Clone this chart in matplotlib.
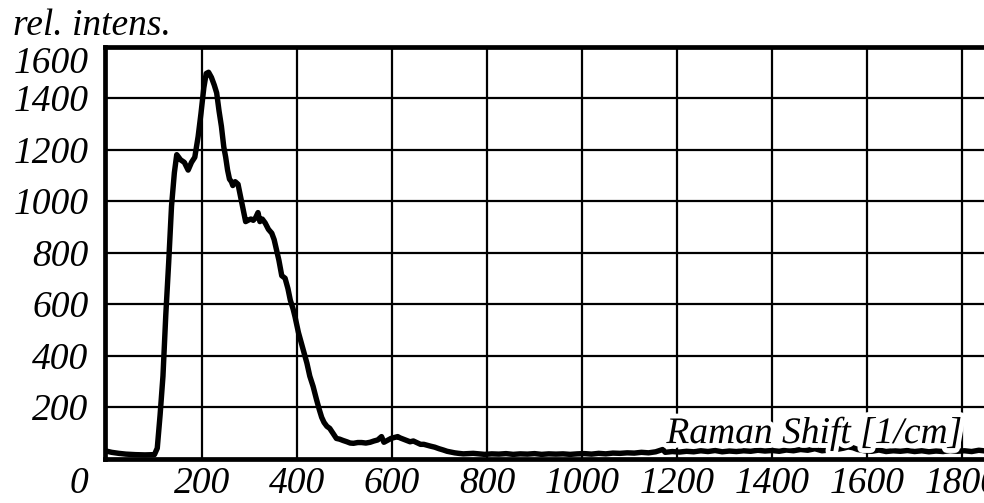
import matplotlib
matplotlib.use("Agg")
import matplotlib.pyplot as plt
import matplotlib.patheffects as pe

raman_shift = [-4, 10, 25, 40, 60, 80, 100, 106, 112, 118, 124, 130, 136, 142, 147,
               155, 163, 171, 178, 185, 192, 198, 204, 209, 214, 220, 226, 231, 236,
               241, 246, 250, 254, 258, 262, 265, 270, 276, 281, 287, 292, 297, 303,
               308, 313, 318, 322, 327, 333, 340, 347, 352, 357, 362, 368, 375, 381,
               386, 392, 396, 403, 409, 415, 421, 427, 434, 441, 447, 452, 457, 463,
               469, 475, 483, 490, 497, 505, 512, 519, 528, 536, 545, 554, 562, 570,
               578, 583, 590, 598, 606, 612, 617, 624, 631, 638, 645, 652, 660, 667,
               673, 681, 690, 699, 708, 716, 724, 732, 740, 750, 760, 771, 782, 795,
               810, 825, 840, 855, 870, 885, 900, 915, 930, 945, 960, 975, 990, 1005,
               1020, 1035, 1050, 1065, 1080, 1095, 1110, 1125, 1140, 1155, 1170, 1175,
               1190, 1205, 1220, 1235, 1250, 1265, 1280, 1295, 1310, 1325, 1340, 1355,
               1370, 1385, 1400, 1415, 1430, 1445, 1460, 1475, 1490, 1505, 1520, 1535,
               1550, 1560, 1570, 1580, 1595, 1610, 1625, 1640, 1655, 1670, 1685, 1700,
               1715, 1730, 1745, 1760, 1775, 1790, 1805, 1820, 1835, 1850]
intensity = [30, 24, 20, 17, 15, 14, 15, 40, 170, 320, 560, 760, 980, 1110, 1180,
             1160, 1150, 1120, 1150, 1170, 1250, 1340, 1440, 1495, 1500, 1480, 1450, 1420, 1350,
             1290, 1210, 1170, 1120, 1085, 1075, 1060, 1075, 1065, 1020, 965, 920, 925, 930,
             925, 935, 955, 920, 930, 915, 890, 875, 850, 810, 770, 710, 700, 660,
             615, 580, 550, 490, 450, 410, 370, 320, 280, 230, 190, 160, 140, 125,
             117, 100, 78, 75, 70, 65, 60, 59, 62, 62, 60, 63, 68, 72,
             85, 63, 70, 78, 82, 85, 80, 75, 70, 65, 68, 62, 55, 55,
             52, 48, 44, 38, 33, 28, 25, 22, 20, 18, 19, 20, 18, 16,
             18, 17, 19, 16, 18, 17, 19, 16, 18, 17, 18, 16, 18, 19,
             17, 20, 18, 21, 20, 22, 21, 24, 22, 26, 35, 24,
             27, 25, 28, 26, 30, 27, 31, 26, 29, 27, 30, 28,
             32, 29, 31, 28, 33, 30, 35, 32, 38, 30, 33, 35,
             40, 45, 42, 35, 30, 28, 33, 27, 30, 28, 31, 27,
             30, 26, 29, 27, 31, 28, 30, 27, 32, 29]

x_ticks = [200, 400, 600, 800, 1000, 1200, 1400, 1600, 1800]
x_tick_labels = ["200", "400", "600", "800", "1000", "1200", "1400", "1600", "1800"]
y_ticks = [200, 400, 600, 800, 1000, 1200, 1400, 1600]
y_tick_labels = ["200", "400", "600", "800", "1000", "1200", "1400", "1600"]

FONT = {"family": "Liberation Serif", "style": "italic", "size": 27}

fig = plt.figure(figsize=(9.84, 5.03), dpi=100)
W, H = 984, 503
left_px, right_px, top_px, bottom_px = 105, 984, 46.5, 458.5
ax = fig.add_axes([left_px / W, (H - bottom_px) / H,
                   (right_px - left_px) / W, (bottom_px - top_px) / H])

ax.plot(raman_shift, intensity, color="black", lw=3.9, solid_joinstyle="round",
        solid_capstyle="round", zorder=3)

ax.set_xlim(-4, 1846)
ax.set_ylim(0, 1600)

ax.set_xticks(x_ticks)
ax.set_xticklabels(x_tick_labels)
ax.set_yticks(y_ticks)
ax.set_yticklabels(y_tick_labels)
ax.tick_params(axis="both", length=0)
ax.tick_params(axis="y", pad=12)
ax.tick_params(axis="x", pad=6)
for lab in ax.get_xticklabels() + ax.get_yticklabels():
    lab.set_fontfamily(FONT["family"])
    lab.set_fontstyle(FONT["style"])
    lab.set_fontsize(FONT["size"])
for lab in ax.get_yticklabels():
    if lab.get_text() == "1600":
        lab.set_verticalalignment("top")

ax.grid(True, color="black", lw=1.6, zorder=1)
ax.set_axisbelow(True)

for side in ["left", "top", "bottom"]:
    ax.spines[side].set_linewidth(3.4)
    ax.spines[side].set_zorder(4)
ax.spines["right"].set_visible(False)

# origin label
ax.annotate("0", xy=(0, 0), xycoords="axes fraction", xytext=(-17, -8),
            textcoords="offset pixels", ha="right", va="top", **FONT)

# axis titles
fig.text(13 / W, (H - 35) / H, "rel. intens.", ha="left", va="baseline", **FONT)
ax.text(1800, 60, "Raman Shift [1/cm]", ha="right", va="baseline", zorder=5,
        path_effects=[pe.withStroke(linewidth=7, foreground="white")], **FONT)

fig.savefig("out.png", dpi=100)
